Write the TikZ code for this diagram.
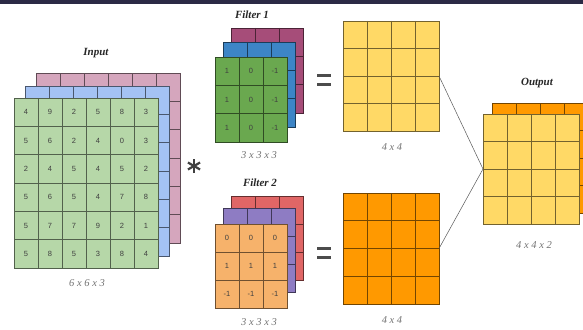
\documentclass[tikz,border=0pt]{standalone}
\usepackage{fontspec}
\setmainfont{Liberation Serif}
\setsansfont{Liberation Sans}
\usetikzlibrary{calc}
\definecolor{topbar}{HTML}{2B2A45}
\definecolor{ingreen}{HTML}{B6D7A8}
\definecolor{inblue}{HTML}{A4C2F4}
\definecolor{inpink}{HTML}{D5A6BD}
\definecolor{fgreen}{HTML}{6AA84F}
\definecolor{fblue}{HTML}{3D85C6}
\definecolor{fmagenta}{HTML}{A64D79}
\definecolor{forange}{HTML}{F6B26B}
\definecolor{fpurple}{HTML}{8E7CC3}
\definecolor{fred}{HTML}{E06666}
\definecolor{myyellow}{HTML}{FFD966}
\definecolor{myorange}{HTML}{FF9900}
\tikzset{
  layer/.style={rectangle, inner sep=0pt, outer sep=0pt, anchor=north west, line width=0.6pt},
  num/.style={font=\sffamily\fontsize{7.5}{8}\selectfont, text=black!75},
  title/.style={font=\bfseries\itshape\fontsize{11}{13}\selectfont, text=black!85},
  dims/.style={font=\itshape\fontsize{10.5}{12}\selectfont, text=black!55},
  opstroke/.style={draw=black!75, line width=2.2pt},
  opbar/.style={fill=black!70},
  link/.style={draw=black!65, line width=0.5pt}
}
% name, x, y, w, h, cols, rows, fill
\newcommand\mylayer[8]{%
  \node[layer, fill=#8, draw=#8!45!black, minimum width=#4pt, minimum height=#5pt] (#1) at (#2,#3) {};
  \pgfmathtruncatemacro\ncm{#6-1}%
  \pgfmathtruncatemacro\nrm{#7-1}%
  \foreach \i in {1,...,\ncm} {\draw[draw=#8!45!black, line width=0.6pt] ($(#1.north west)!\i/#6!(#1.north east)$) -- ($(#1.south west)!\i/#6!(#1.south east)$);}
  \foreach \j in {1,...,\nrm} {\draw[draw=#8!45!black, line width=0.6pt] ($(#1.north west)!\j/#7!(#1.south west)$) -- ($(#1.north east)!\j/#7!(#1.south east)$);}
}
\newcommand\myequals[1]{%
  \fill[opbar] ($(#1)+(-7,-5.8)$) rectangle ($(#1)+(7,-3.2)$);
  \fill[opbar] ($(#1)+(-7,3.2)$) rectangle ($(#1)+(7,5.8)$);
}
\begin{document}
\begin{tikzpicture}[x=1pt,y=-1pt]
\useasboundingbox (0,0) rectangle (583,329);
\clip (0,0) rectangle (583,329);
\fill[white] (0,0) rectangle (583,329);
\fill[topbar] (0,0) rectangle (583,4);

% Input
\mylayer{inC}{36}{73}{144}{170}{6}{6}{inpink}
\mylayer{inB}{25}{86}{144}{170}{6}{6}{inblue}
\mylayer{inA}{14}{98}{144}{170}{6}{6}{ingreen}
\foreach \row [count=\r] in {{4,9,2,5,8,3},{5,6,2,4,0,3},{2,4,5,4,5,2},{5,6,5,4,7,8},{5,7,7,9,2,1},{5,8,5,3,8,4}}
  \foreach \v [count=\c] in \row
    \node[num] at ($(inA.north west)+(\c*24-12,\r*28.333-14.17)$) {\v};
\node[title] (tin) at (96,53) {Input};
\node[dims] (din) at (87,283) {6 x 6 x 3};

% convolution sign
\coordinate (star) at (194,166);
\foreach \a in {90,30,150}
  \draw[opstroke] ($(star)+(\a:7)$) -- ($(star)+(\a+180:7)$);

% Filter 1
\mylayer{fa3}{231}{28}{72}{85}{3}{3}{fmagenta}
\mylayer{fa2}{223}{42}{72}{85}{3}{3}{fblue}
\mylayer{fa1}{215}{57}{72}{85}{3}{3}{fgreen}
\foreach \row [count=\r] in {{1,0,-1},{1,0,-1},{1,0,-1}}
  \foreach \v [count=\c] in \row
    \node[num] at ($(fa1.north west)+(\c*24-12,\r*28.333-14.17)$) {\v};
\node[title] (tfa) at (252,15) {Filter 1};
\node[dims] (dfa) at (259,155) {3 x 3 x 3};
\coordinate (eqa) at (324,80);
\myequals{eqa}

% Filter 2
\mylayer{fb3}{231}{196}{72}{84}{3}{3}{fred}
\mylayer{fb2}{223}{208}{72}{84}{3}{3}{fpurple}
\mylayer{fb1}{215}{224}{72}{84}{3}{3}{forange}
\foreach \row [count=\r] in {{0,0,0},{1,1,1},{-1,-1,-1}}
  \foreach \v [count=\c] in \row
    \node[num] at ($(fb1.north west)+(\c*24-12,\r*28-14)$) {\v};
\node[title] (tfb) at (260,183) {Filter 2};
\node[dims] (dfb) at (259,322) {3 x 3 x 3};
\coordinate (eqb) at (324,253);
\myequals{eqb}

% Feature maps
\mylayer{ya}{343}{21}{96}{110}{4}{4}{myyellow}
\node[dims] (dya) at (392,147) {4 x 4};
\mylayer{ob}{343}{193}{96}{111}{4}{4}{myorange}
\node[dims] (dob) at (392,320) {4 x 4};

% Output
\mylayer{outB}{492}{103}{96}{110}{4}{4}{myorange}
\mylayer{outA}{483}{114}{96}{110}{4}{4}{myyellow}
\node[title] (tout) at (537,83) {Output};
\node[dims] (dout) at (534,245) {4 x 4 x 2};

\draw[link] (ya.east) -- (outA.west);
\draw[link] (ob.east) -- (outA.west);
\end{tikzpicture}
\end{document}
